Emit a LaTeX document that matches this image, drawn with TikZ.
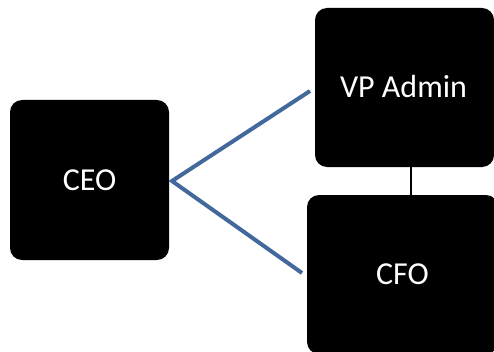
\documentclass[tikz,border=0pt]{standalone}
\usepackage{fontspec}
\setmainfont{Carlito}
\definecolor{linkblue}{RGB}{66,104,156}
\begin{document}
\begin{tikzpicture}[x=1pt,y=1pt,
  box/.style={fill=black,draw=none,rounded corners=12pt},
  label/.style={text=white,font=\fontsize{32}{38}\selectfont,inner sep=0pt},
  link/.style={draw=linkblue,line width=4pt},
  tie/.style={draw=black,line width=2pt}]
\useasboundingbox (0,0) rectangle (494,351);
\clip (0,0) rectangle (494,351);
\fill[white] (0,0) rectangle (494,351);
\node[box,minimum width=159pt,minimum height=160pt] (ceo) at (89.5,171) {};
\node[box,minimum width=179pt,minimum height=159pt] (vp) at (404.5,263.5) {};
\node[box,minimum width=191pt,minimum height=159pt] (cfo) at (402.5,76.5) {};
\node[label] (ceot) at (89.5,171) {CEO};
\node[label] (vpt) at (403.5,264) {VP Admin};
\node[label] (cfot) at (402.5,77) {CFO};
\coordinate (apex) at (172,170);
\coordinate (upend) at (310,260);
\coordinate (lowend) at (302,78);
\draw[link] (upend) -- (apex) -- (lowend);
\draw[tie] (vp.south -| 411,0) -- (cfo.north -| 411,0);
\end{tikzpicture}
\end{document}
